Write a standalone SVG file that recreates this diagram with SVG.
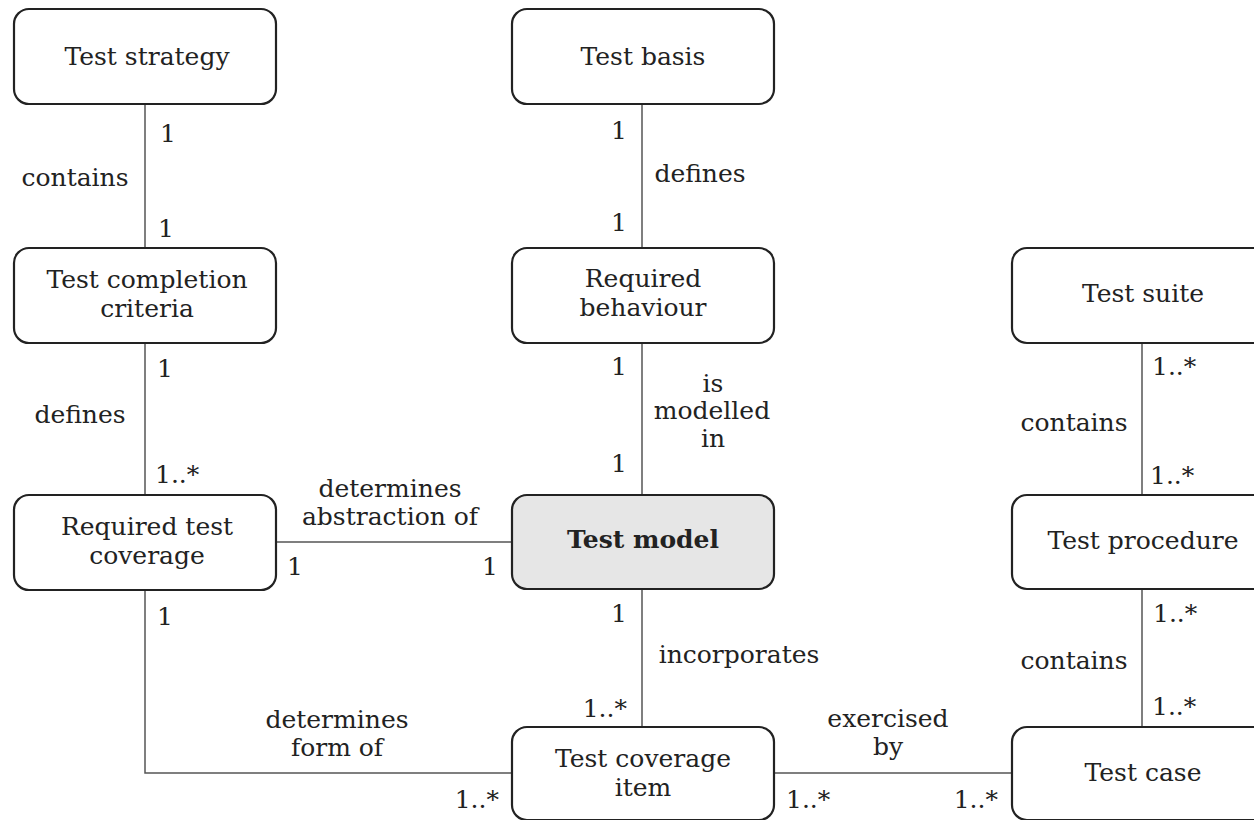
<svg xmlns="http://www.w3.org/2000/svg" width="1254" height="820" viewBox="0 0 1254 820">
<style>
.box{fill:#fff;stroke:#222;stroke-width:2.2}
.hl{fill:#e6e6e6}
.t{font-family:"DejaVu Serif","Liberation Serif",serif;font-size:25px;fill:#222;text-anchor:middle}
.b{font-weight:bold}
.l{font-family:"DejaVu Serif","Liberation Serif",serif;font-size:25px;fill:#222}
.e{text-anchor:end}
.c{fill:none;stroke:#555;stroke-width:1.5}
</style>
<rect width="1254" height="820" fill="#fff"/>
<g id="connectors">
<line class="c" x1="145" y1="104" x2="145" y2="248"/>
<line class="c" x1="145" y1="343" x2="145" y2="495"/>
<line class="c" x1="276" y1="542" x2="512" y2="542"/>
<polyline class="c" points="145,590 145,773 512,773"/>
<line class="c" x1="642" y1="104" x2="642" y2="248"/>
<line class="c" x1="642" y1="343" x2="642" y2="495"/>
<line class="c" x1="642" y1="590" x2="642" y2="727"/>
<line class="c" x1="774" y1="773" x2="1012" y2="773"/>
<line class="c" x1="1142" y1="343" x2="1142" y2="495"/>
<line class="c" x1="1142" y1="590" x2="1142" y2="727"/>
<text class="l" x="160" y="142">1</text>
<text class="t" x="75" y="186">contains</text>
<text class="l" x="158" y="237">1</text>
<text class="l" x="157" y="377">1</text>
<text class="t" x="80" y="423">defines</text>
<text class="l" x="155" y="483">1..*</text>
<text class="t" x="390" y="497">determines</text>
<text class="t" x="390" y="525">abstraction of</text>
<text class="l" x="287" y="575">1</text>
<text class="l e" x="498" y="575">1</text>
<text class="l" x="157" y="625">1</text>
<text class="t" x="337" y="728">determines</text>
<text class="t" x="337" y="756">form of</text>
<text class="l e" x="499" y="808">1..*</text>
<text class="l e" x="627" y="139">1</text>
<text class="t" x="700" y="182">defines</text>
<text class="l e" x="627" y="231">1</text>
<text class="l e" x="627" y="375">1</text>
<text class="t" x="713" y="392">is</text>
<text class="t" x="712" y="419">modelled</text>
<text class="t" x="713" y="447">in</text>
<text class="l e" x="627" y="472">1</text>
<text class="l e" x="627" y="622">1</text>
<text class="t" x="739" y="663">incorporates</text>
<text class="l e" x="627" y="717">1..*</text>
<text class="t" x="888" y="727">exercised</text>
<text class="t" x="888" y="755">by</text>
<text class="l" x="786" y="808">1..*</text>
<text class="l e" x="998" y="808">1..*</text>
<text class="l" x="1152" y="375">1..*</text>
<text class="t" x="1074" y="431">contains</text>
<text class="l" x="1150" y="484">1..*</text>
<text class="l" x="1153" y="622">1..*</text>
<text class="t" x="1074" y="669">contains</text>
<text class="l" x="1152" y="715">1..*</text>
</g>
<g id="test-strategy"><rect class="box" x="14" y="9" width="262" height="95" rx="15"/><text class="t" x="147" y="65">Test strategy</text></g>
<g id="test-completion-criteria"><rect class="box" x="14" y="248" width="262" height="95" rx="15"/><text class="t" x="147" y="288">Test completion</text><text class="t" x="147" y="317">criteria</text></g>
<g id="required-test-coverage"><rect class="box" x="14" y="495" width="262" height="95" rx="15"/><text class="t" x="147" y="535">Required test</text><text class="t" x="147" y="564">coverage</text></g>
<g id="test-basis"><rect class="box" x="512" y="9" width="262" height="95" rx="15"/><text class="t" x="643" y="65">Test basis</text></g>
<g id="required-behaviour"><rect class="box" x="512" y="248" width="262" height="95" rx="15"/><text class="t" x="643" y="287">Required</text><text class="t" x="643" y="316">behaviour</text></g>
<g id="test-model"><rect class="box hl" x="512" y="495" width="262" height="94" rx="15"/><text class="t b" x="643" y="548">Test model</text></g>
<g id="test-coverage-item"><rect class="box" x="512" y="727" width="262" height="93" rx="15"/><text class="t" x="643" y="767">Test coverage</text><text class="t" x="643" y="796">item</text></g>
<g id="test-suite"><rect class="box" x="1012" y="248" width="262" height="95" rx="15"/><text class="t" x="1143" y="302">Test suite</text></g>
<g id="test-procedure"><rect class="box" x="1012" y="495" width="262" height="94" rx="15"/><text class="t" x="1143" y="549">Test procedure</text></g>
<g id="test-case"><rect class="box" x="1012" y="727" width="262" height="93" rx="15"/><text class="t" x="1143" y="781">Test case</text></g>
</svg>
